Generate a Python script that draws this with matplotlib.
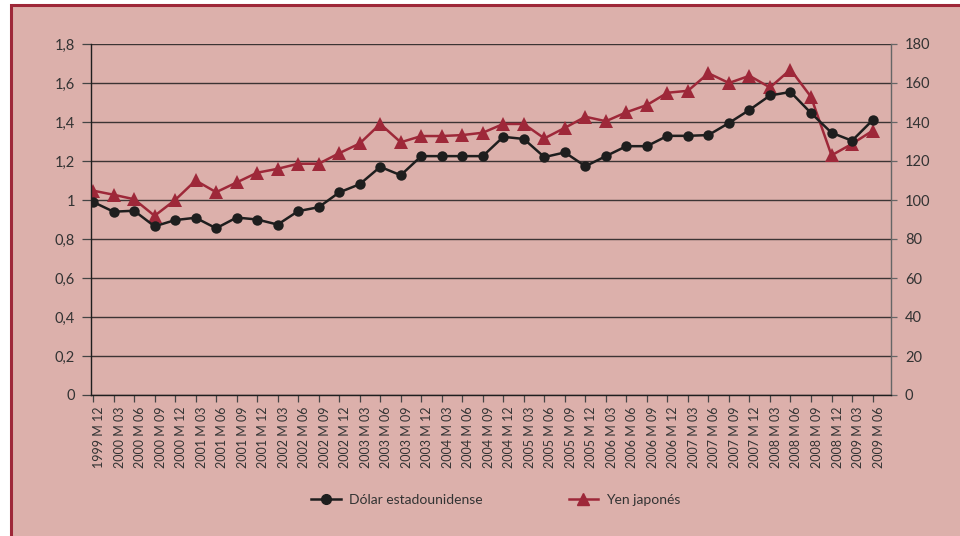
import matplotlib
matplotlib.use("Agg")
import matplotlib.pyplot as plt
from matplotlib.patches import Rectangle
from matplotlib.lines import Line2D

periods = ["1999 M 12", "2000 M 03", "2000 M 06", "2000 M 09", "2000 M 12",
           "2001 M 03", "2001 M 06", "2001 M 09", "2001 M 12",
           "2002 M 03", "2002 M 06", "2002 M 09", "2002 M 12",
           "2003 M 03", "2003 M 06", "2003 M 09", "2003 M 12",
           "2004 M 03", "2004 M 06", "2004 M 09", "2004 M 12",
           "2005 M 03", "2005 M 06", "2005 M 09", "2005 M 12",
           "2006 M 03", "2006 M 06", "2006 M 09", "2006 M 12",
           "2007 M 03", "2007 M 06", "2007 M 09", "2007 M 12",
           "2008 M 03", "2008 M 06", "2008 M 09", "2008 M 12",
           "2009 M 03", "2009 M 06"]

dolar = [0.99, 0.94, 0.945, 0.865, 0.897, 0.909, 0.855, 0.91, 0.90,
         0.874, 0.943, 0.963, 1.039, 1.081, 1.17, 1.127, 1.225,
         1.225, 1.225, 1.225, 1.324, 1.313, 1.22, 1.244, 1.173,
         1.225, 1.276, 1.276, 1.329, 1.329, 1.333, 1.395, 1.462,
         1.536, 1.554, 1.446, 1.345, 1.304, 1.409]

yen = [104.8, 102.7, 100.4, 91.9, 100.0, 110.0, 104.0, 109.0, 114.0,
       116.0, 118.6, 118.6, 124.0, 129.0, 139.0, 129.6, 132.8,
       132.8, 133.3, 134.5, 139.0, 139.0, 131.6, 137.0, 142.7,
       140.4, 145.0, 148.7, 155.0, 156.0, 165.0, 160.0, 163.7,
       157.7, 166.9, 152.9, 122.9, 128.8, 135.5]

left_ticks = [0, 0.2, 0.4, 0.6, 0.8, 1.0, 1.2, 1.4, 1.6, 1.8]
left_labels = ["0", "0,2", "0,4", "0,6", "0,8", "1", "1,2", "1,4", "1,6", "1,8"]
right_ticks = [0, 20, 40, 60, 80, 100, 120, 140, 160, 180]

BG = "#dcb0ab"
RED = "#9e2839"
BLACK = "#1e1e1e"
TXT = "#333333"

plt.rcParams['font.family'] = ['Lato', 'DejaVu Sans']

fig = plt.figure(figsize=(9.6, 5.36), dpi=100)
fig.patch.set_facecolor("white")
fig.patches.append(Rectangle((11/960, -0.1), 1.2, 1 - 5/536 + 0.1,
                             transform=fig.transFigure, facecolor=BG,
                             edgecolor=RED, linewidth=2.2, zorder=-5))

ax = fig.add_axes([91/960, 1 - 395/536, 800/960, (395 - 44)/536])
ax2 = ax.twinx()
ax2.set_zorder(1)
ax.set_zorder(2)
ax.patch.set_visible(False)
ax2.patch.set_visible(False)

x = list(range(len(periods)))

ax2.plot(x, yen, color=RED, linewidth=1.8, marker="^", markersize=10,
         markeredgewidth=0, zorder=3)
ax.plot(x, dolar, color=BLACK, linewidth=1.8, marker="o", markersize=7.5,
        markeredgewidth=0, zorder=4)

ax.set_xlim(-0.1, len(periods) - 0.1)
ax.set_ylim(0, 1.8)
ax2.set_ylim(0, 180)

for r in right_ticks:
    ax2.axhline(r, color="#3c3434", linewidth=1.0, zorder=1)

ax.set_yticks(left_ticks)
ax.set_yticklabels(left_labels)
ax2.set_yticks(right_ticks)
ax2.set_yticklabels([str(v) for v in right_ticks])

ax.set_xticks(x)
ax.set_xticklabels(periods, rotation=90, ha="left", va="top", fontsize=9,
                   color=TXT)
ax.tick_params(axis="x", length=5, width=0.9, color="#444444", pad=3)
ax.tick_params(axis="y", length=6.5, width=0.9, color="#444444", pad=5,
               labelsize=10.5, labelcolor=TXT)
ax2.tick_params(axis="y", length=4, width=0.9, color="#666666", pad=6,
                labelsize=10.5, labelcolor=TXT)

for a in (ax, ax2):
    a.spines["top"].set_visible(False)
ax.spines["right"].set_visible(False)
ax2.spines["left"].set_visible(False)
ax2.spines["bottom"].set_visible(False)
ax.spines["left"].set_color(BLACK)
ax.spines["bottom"].set_color(BLACK)
ax2.spines["right"].set_color("#666666")
for s in ("left", "bottom"):
    ax.spines[s].set_linewidth(1.0)
ax2.spines["right"].set_linewidth(1.0)

handles = [Line2D([], [], color=BLACK, linewidth=1.8, marker="o", markersize=7),
           Line2D([], [], color=RED, linewidth=1.8, marker="^", markersize=9)]
fig.legend(handles, ["Dólar estadounidense", "Yen japonés"], loc="center",
           bbox_to_anchor=(496/960, 1 - 500/536), ncol=2, frameon=False,
           fontsize=10, handlelength=2.1, handletextpad=0.6, columnspacing=6.2,
           labelcolor=TXT)

fig.savefig("out.png", dpi=100, facecolor=fig.get_facecolor())
